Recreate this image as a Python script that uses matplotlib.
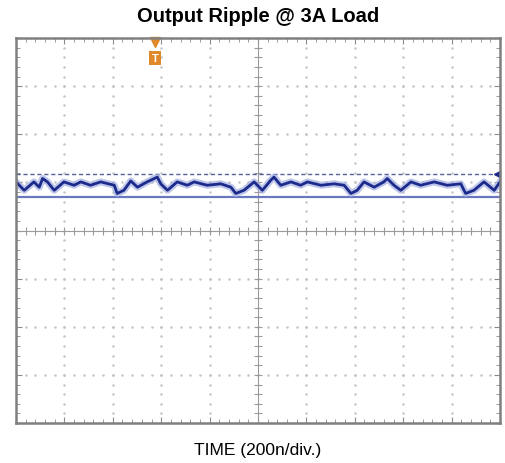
import numpy as np
from matplotlib import pyplot as plt

plt.rcParams['font.family'] = ['Liberation Sans', 'DejaVu Sans']

# trace, in divisions (x: 0..10, y: -4..4)
t_div = [0.0, 0.17, 0.37, 0.48, 0.55, 0.65, 0.79, 0.99, 1.20, 1.34, 1.54, 1.75,
         2.03, 2.09, 2.23, 2.37, 2.51, 2.71, 2.92, 2.99, 3.13, 3.33, 3.54, 3.68,
         3.95, 4.23, 4.44, 4.54, 4.71, 4.92, 5.09, 5.26, 5.33, 5.47, 5.68, 5.88,
         6.02, 6.30, 6.57, 6.78, 6.92, 7.05, 7.19, 7.40, 7.60, 7.67, 7.81, 7.95,
         8.16, 8.36, 8.64, 8.91, 9.19, 9.29, 9.46, 9.67, 9.88, 10.0]
v_div = [1.01, 0.835, 1.01, 0.90, 1.08, 1.01, 0.835, 1.01, 0.94, 1.01, 0.94, 1.01,
         0.94, 0.77, 0.835, 1.03, 0.90, 1.01, 1.11, 0.97, 0.835, 1.01, 0.94, 1.01,
         0.94, 0.97, 0.90, 0.77, 0.835, 1.01, 0.835, 1.04, 1.11, 0.94, 1.01, 0.94,
         1.01, 0.94, 0.97, 0.94, 0.77, 0.835, 1.01, 0.90, 1.01, 1.08, 0.94, 0.835,
         1.01, 0.94, 1.01, 0.94, 0.97, 0.77, 0.835, 1.01, 0.835, 1.01]
cursor_level = 1.17     # dashed cursor
ground_level = 0.69     # channel reference line
trigger_pos = 2.87

fig = plt.figure(figsize=(5.05, 4.64), dpi=100)
ax = fig.add_axes([16 / 505, 40 / 464, 484 / 505, 385 / 464])
ax.set_xlim(0, 10)
ax.set_ylim(-4, 4)

# dotted graticule
minor = np.arange(0, 10.01, 0.2)
minor_y = np.arange(-4, 4.01, 0.2)
for gx in range(1, 10):
    if gx != 5:
        ax.plot([gx] * len(minor_y), minor_y, ls='none', marker='o', ms=0.8, color='#c4c4c4')
for gy in range(-3, 4):
    if gy != 0:
        ax.plot(minor, [gy] * len(minor), ls='none', marker='o', ms=0.8, color='#c4c4c4')

# centre cross with small ticks
ax.axhline(0, color='#9a9a9a', lw=0.8)
ax.axvline(5, color='#9a9a9a', lw=0.8)
ax.plot(minor, [0] * len(minor), ls='none', marker='|', ms=6, mew=0.8, color='#9a9a9a')
ax.plot([5] * len(minor_y), minor_y, ls='none', marker='_', ms=6, mew=0.8, color='#9a9a9a')

# reference and cursor lines
ax.axhline(ground_level, color='#6a78c0', lw=1.6)
ax.axhline(cursor_level, color='#55609a', lw=1.0, ls=(0, (3, 2)))

# persistence haze + trace
ax.plot(t_div, v_div, color='#a3aee0', lw=5, alpha=0.7)
ax.plot(t_div, v_div, color='#1c2a8c', lw=2.0)

# markers
ax.plot([9.93], [cursor_level], marker='<', ms=5, color='#1c2a8c', clip_on=False)
ax.plot([trigger_pos], [3.92], marker='v', ms=7, color='#e0892a', clip_on=False)
ax.text(trigger_pos, 3.58, 'T', ha='center', va='center', fontsize=8, fontweight='bold',
        color='white', bbox=dict(boxstyle='square,pad=0.2', fc='#e0892a', ec='none'))

ax.set_xticks(np.arange(0, 11, 1))
ax.set_yticks(np.arange(-4, 5, 1))
ax.set_xticks(minor, minor=True)
ax.set_yticks(minor_y, minor=True)
ax.tick_params(which='both', direction='in', top=True, right=True,
               labelbottom=False, labelleft=False, color='#8a8a8a')
ax.tick_params(which='major', length=4)
ax.tick_params(which='minor', length=3)
for s in ax.spines.values():
    s.set_color('#808080')
    s.set_linewidth(1.8)

fig.text(258 / 505, 1 - 17 / 464, 'Output Ripple @ 3A Load', ha='center', va='center',
         fontsize=14.5, fontweight='bold')
fig.text(258 / 505, 1 - 451 / 464, 'TIME (200n/div.)', ha='center', va='center', fontsize=12.5)

fig.savefig('out.png', dpi=100)
